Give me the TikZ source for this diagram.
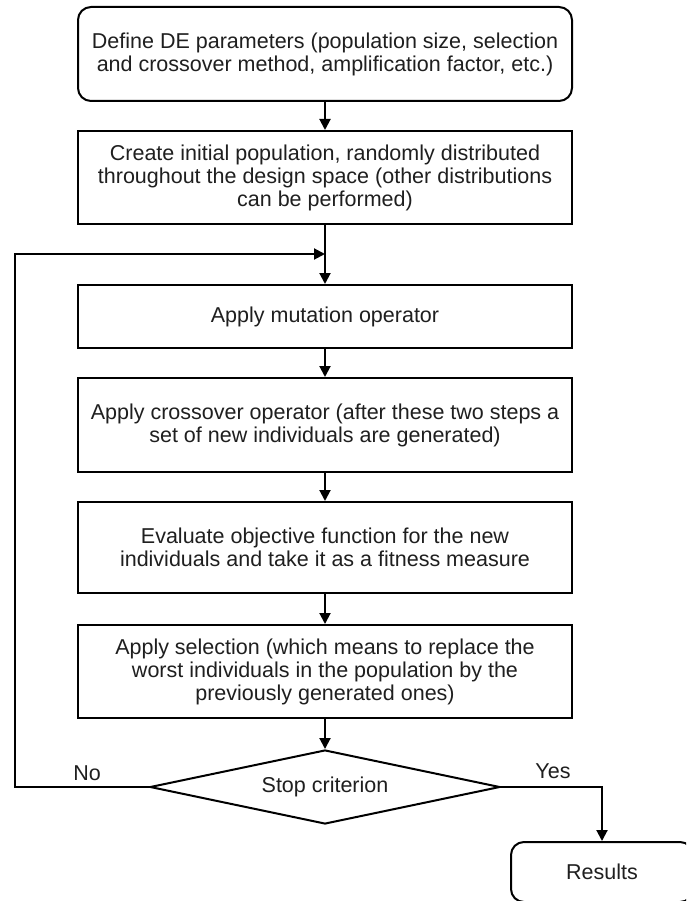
\documentclass[tikz,border=0pt]{standalone}
\usepackage{fontspec}
\setmainfont{Liberation Sans}
\usetikzlibrary{arrows.meta,shapes.geometric}
\begin{document}
\begin{tikzpicture}[x=1pt,y=-1pt,
  txt/.style={font=\fontsize{21.5}{23}\selectfont, text=black!88},
  box/.style={txt, draw, line width=2pt, minimum width=494pt, align=center, inner sep=0pt},
  rbox/.style={box, rounded corners=13pt},
  dec/.style={txt, draw, line width=2pt, diamond, aspect=4.7, minimum width=350pt, minimum height=74pt, inner sep=0pt},
  conn/.style={line width=2pt},
  arr/.style={conn, -{Triangle[length=11pt,width=11pt]}},
  lab/.style={txt, inner sep=0pt}]
\useasboundingbox (0,0) rectangle (686,901);
\clip (0,0) rectangle (686,901);
\fill[white] (0,0) rectangle (686,901);

\node[rbox, minimum height=94pt] (b1) at (325,54) {Define DE parameters (population size, selection\\and crossover method, amplification factor, etc.)};
\node[box, minimum height=93pt] (b2) at (325,177.5) {Create initial population, randomly distributed\\throughout the design space (other distributions\\can be performed)};
\node[box, minimum height=63pt] (b3) at (325,316.5) {Apply mutation operator};
\node[box, minimum height=94pt] (b4) at (325,425) {Apply crossover operator (after these two steps a\\set of new individuals are generated)};
\node[box, minimum height=91pt] (b5) at (325,547.5) {Evaluate objective function for the new\\individuals and take it as a fitness measure};
\node[box, minimum height=93pt] (b6) at (325,671.5) {Apply selection (which means to replace the\\worst individuals in the population by the\\previously generated ones)};
\node[dec] (d) at (325,787) {Stop criterion};
\node[rbox, minimum width=182pt, minimum height=60pt] (res) at (602,872) {Results};

\node[lab] (no) at (87,773) {No};
\node[lab] (yes) at (553,771) {Yes};

\coordinate (j) at (325,254);
\coordinate (l1) at (15,787);
\coordinate (l2) at (15,254);

\draw[arr] (b1) -- (b2);
\draw[arr] (b2) -- (b3);
\draw[arr] (b3) -- (b4);
\draw[arr] (b4) -- (b5);
\draw[arr] (b5) -- (b6);
\draw[arr] (b6) -- (d);
\draw[arr] (d.west) -- (l1) -- (l2) -- (j);
\draw[arr] (d.east) -| (res.north);
\end{tikzpicture}
\end{document}
